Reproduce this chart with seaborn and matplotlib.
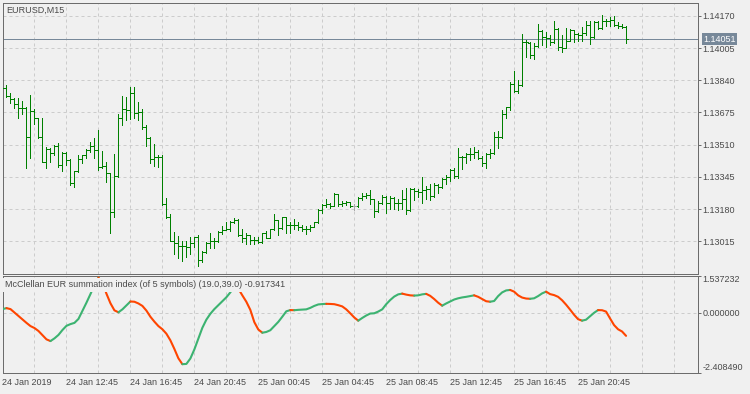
import numpy as np
import pandas as pd
import matplotlib
matplotlib.use("Agg")
import matplotlib.pyplot as plt
import seaborn as sns

# ---------------- data (prices in points, 1 point = 0.00001) ----------------
POINT = 1e-5
open_pts = [113805,113799,113761,113743,113719,113696,113700,113549,113683,113645,
            113551,113423,113488,113466,113505,113406,113466,113431,113312,113375,
            113435,113457,113483,113503,113484,113394,113400,113363,113163,113347,
            113645,113691,113685,113773,113671,113675,113599,113544,113435,113447,
            113445,113204,113140,113018,113006,112990,112992,112988,113004,113036,
            112918,112958,113004,113016,113018,113063,113075,113076,113115,113124,
            113047,113030,113047,113021,113023,113013,113055,113034,113076,113124,
            113085,113137,113096,113098,113100,113089,113076,113078,113089,113112,
            113177,113200,113204,113198,113255,113204,113211,113216,113195,113195,
            113238,113247,113252,113230,113170,113212,113242,113209,113235,113212,
            113209,113230,113175,113281,113272,113270,113277,113281,113247,113303,
            113294,113332,113346,113380,113349,113445,113449,113462,113464,113470,
            113441,113414,113460,113466,113548,113550,113667,113702,113821,113785,
            113816,114038,114030,113970,114016,114093,114061,114056,114035,114103,
            114009,114007,114042,114095,114078,114072,114081,114124,114061,114138,
            114107,114141,114144,114146,114124,114120,114115]
high_pts = [113808,113816,113773,113748,113751,113734,113705,113765,113691,113648,
            113645,113500,113494,113508,113517,113471,113471,113436,113375,113457,
            113457,113488,113522,113543,113585,113477,113420,113365,113460,113667,
            113761,113753,113803,113806,113729,113693,113611,113548,113513,113457,
            113455,113235,113154,113063,113041,113016,113018,113038,113038,113047,
            112966,113012,113057,113030,113066,113093,113115,113120,113135,113127,
            113076,113055,113049,113036,113036,113057,113068,113078,113154,113126,
            113140,113139,113113,113127,113113,113100,113091,113098,113115,113178,
            113206,113230,113212,113264,113257,113221,113221,113217,113204,113243,
            113260,113260,113277,113232,113221,113252,113247,113248,113243,113230,
            113277,113286,113286,113286,113281,113346,113298,113306,113312,113308,
            113337,113354,113384,113388,113491,113454,113467,113493,113496,113483,
            113452,113466,113486,113575,113580,113688,113705,113833,113888,113842,
            114078,114047,114035,114030,114129,114095,114089,114072,114144,114107,
            114072,114107,114103,114097,114084,114115,114144,114141,114144,114141,
            114175,114153,114163,114170,114136,114129,114117]
low_pts = [113793,113756,113722,113700,113648,113666,113392,113443,113618,113543,
           113420,113392,113423,113457,113397,113376,113406,113303,113294,113371,
           113414,113440,113471,113443,113380,113389,113320,113060,113137,113346,
           113611,113636,113642,113644,113636,113590,113503,113418,113400,113394,
           113200,113135,113017,112951,112929,112915,112935,112949,112987,112889,
           112910,112955,112982,112980,113012,113052,113072,113069,113110,113044,
           113012,113000,113000,113000,113007,113006,113032,113030,113072,113045,
           113077,113060,113060,113076,113072,113067,113050,113069,113088,113110,
           113161,113189,113184,113196,113197,113195,113200,113189,113175,113192,
           113226,113235,113204,113140,113163,113204,113158,113178,113178,113175,
           113178,113153,113171,113226,113240,113211,113231,113228,113242,113260,
           113286,113307,113326,113340,113339,113384,113417,113431,113440,113436,
           113400,113389,113440,113462,113494,113545,113645,113688,113782,113773,
           113811,113961,113953,113949,114012,114021,114012,114021,114030,113996,
           113987,114005,114040,114035,114043,114043,114072,114025,114058,114105,
           114103,114120,114120,114120,114107,114107,114030]
close_pts = [113799,113761,113743,113719,113696,113700,113549,113683,113645,113551,
             113423,113488,113466,113505,113406,113466,113431,113312,113375,113435,
             113457,113483,113503,113484,113394,113400,113363,113163,113347,113645,
             113691,113685,113773,113671,113675,113599,113544,113435,113447,113445,
             113204,113140,113018,113006,112990,112992,112988,113004,113036,112918,
             112958,113004,113016,113018,113063,113075,113076,113115,113124,113047,
             113030,113047,113021,113023,113013,113055,113034,113076,113124,113085,
             113137,113096,113098,113100,113089,113076,113078,113089,113112,113177,
             113200,113204,113198,113255,113204,113211,113216,113198,113195,113238,
             113247,113252,113231,113170,113212,113242,113209,113235,113212,113209,
             113230,113175,113281,113272,113270,113277,113281,113247,113303,113294,
             113332,113346,113380,113349,113445,113449,113462,113464,113470,113441,
             113414,113460,113466,113548,113550,113667,113702,113821,113785,113816,
             114038,114034,113970,114016,114093,114061,114056,114035,114103,114009,
             114007,114042,114095,114078,114072,114081,114124,114061,114138,114107,
             114141,114144,114146,114124,114120,114115,114051]
mcclellan = [0.17, 0.21, 0.17, 0.03, -0.11, -0.25, -0.39, -0.52, -0.60, -0.72,
             -0.89, -1.06, -1.13, -1.02, -0.88, -0.68, -0.51, -0.44, -0.39, -0.23,
             0.10, 0.43, 0.78, 1.15, 1.45, 1.25, 0.80, 0.41, 0.12, 0.04,
             0.16, 0.32, 0.48, 0.47, 0.40, 0.30, 0.11, -0.14, -0.34, -0.52,
             -0.65, -0.83, -1.10, -1.45, -1.83, -2.07, -2.06, -1.84, -1.47, -1.03,
             -0.59, -0.26, -0.02, 0.17, 0.33, 0.49, 0.65, 0.85, 1.10, 1.00,
             0.73, 0.47, 0.14, -0.36, -0.66, -0.79, -0.76, -0.69, -0.52, -0.35,
             -0.14, 0.08, 0.13, 0.125, 0.14, 0.15, 0.16, 0.22, 0.30, 0.36,
             0.375, 0.385, 0.38, 0.37, 0.33, 0.28, 0.16, 0.00, -0.17, -0.30,
             -0.19, -0.09, -0.01, 0.00, 0.07, 0.16, 0.37, 0.54, 0.68, 0.77,
             0.80, 0.76, 0.73, 0.72, 0.73, 0.77, 0.79, 0.71, 0.58, 0.43,
             0.31, 0.40, 0.48, 0.56, 0.61, 0.645, 0.67, 0.70, 0.73, 0.67,
             0.58, 0.49, 0.47, 0.50, 0.70, 0.85, 0.93, 0.95, 0.88, 0.73,
             0.64, 0.60, 0.59, 0.61, 0.70, 0.81, 0.88, 0.78, 0.74, 0.67,
             0.53, 0.35, 0.15, -0.06, -0.24, -0.30, -0.26, -0.12, 0.02, 0.13,
             0.125, 0.07, -0.21, -0.48, -0.65, -0.74, -0.917341]
price_ticks = [1.13015, 1.13180, 1.13345, 1.13510, 1.13675, 1.13840, 1.14005, 1.14170]
indicator_ticks = [-2.408490, 0.000000, 1.537232]
time_labels = ["24 Jan 2019", "24 Jan 12:45", "24 Jan 16:45", "24 Jan 20:45",
               "25 Jan 00:45", "25 Jan 04:45", "25 Jan 08:45", "25 Jan 12:45",
               "25 Jan 16:45", "25 Jan 20:45"]
last_price = 1.14051
symbol_title = "EURUSD,M15"
indicator_title = "McClellan EUR summation index (of 5 symbols) (19.0,39.0) -0.917341"

# ---------------- style ----------------
sns.set_theme(style="white")
plt.rcParams["font.family"] = ["Liberation Sans", "DejaVu Sans"]
FS = 6.5
BG = "#f0f0f0"
FRAME = "#6c6c6c"
GRID = "#cccccc"
TXT = "#4a4a4a"
BAR = "#008000"
DOJI = "#a8a8a8"
UP = "#3cb371"
DOWN = "#ff4500"
LAST = "#778899"
PX = 0.72  # one pixel in points at 100 dpi

bars = pd.DataFrame({
    "bar": np.arange(len(close_pts)),
    "open": np.array(open_pts) * POINT,
    "high": np.array(high_pts) * POINT,
    "low": np.array(low_pts) * POINT,
    "close": np.array(close_pts) * POINT,
})
bars["color"] = np.where(np.array(open_pts) == np.array(close_pts), DOJI, BAR)
ind = pd.DataFrame({"bar": np.arange(len(mcclellan)), "value": mcclellan})

W, H = 750, 394
fig = plt.figure(figsize=(W / 100, H / 100), dpi=100, facecolor=BG)


def px_axes(l, t, r, b):
    return fig.add_axes([l / W, 1 - b / H, (r - l) / W, (b - t) / H])


ax1 = px_axes(2.5, 2.5, 697.5, 273.5)
ax2 = px_axes(2.5, 275.5, 697.5, 372.5)

x_lo = 0.125
x_hi = x_lo + 695 / 4.0

for ax in (ax1, ax2):
    ax.set_facecolor(BG)
    for s in ax.spines.values():
        s.set_visible(True)
        s.set_color(FRAME)
        s.set_linewidth(PX)
    ax.set_xlim(x_lo, x_hi)

# ---------------- price bars ----------------
ax1.axhline(last_price, color=LAST, lw=PX, zorder=1.5)
ax1.vlines(bars["bar"], bars["low"], bars["high"], colors=bars["color"], lw=PX,
           antialiased=False, zorder=3)
ax1.hlines(bars["open"], bars["bar"] - 0.5, bars["bar"], colors=bars["color"], lw=PX,
           antialiased=False, zorder=3)
ax1.hlines(bars["close"], bars["bar"], bars["bar"] + 0.5, colors=bars["color"], lw=PX,
           antialiased=False, zorder=3)

ax1.set_ylim(1.128500, 1.142382)
ax1.yaxis.tick_right()
ax1.set_yticks(price_ticks)
ax1.set_yticklabels([f"{v:.5f}" for v in price_ticks])
ax1.set_xticks(np.arange(8, x_hi, 8))
ax1.set_xticklabels([])
ax1.tick_params(axis="x", length=0)
ax1.tick_params(axis="y", direction="out", length=2.2, width=PX, color=FRAME,
                labelcolor=TXT, labelsize=FS, pad=1.5)
ax1.grid(True, color=GRID, linestyle=(0, (3, 3)), lw=PX, zorder=0)
ax1.set_axisbelow(True)

ax1.annotate(f"{last_price:.5f}", xy=(1, last_price), xycoords=ax1.get_yaxis_transform(),
             xytext=(4.2, 0), textcoords="offset points", ha="left", va="center",
             color="white", fontsize=FS, annotation_clip=False, zorder=6,
             bbox=dict(boxstyle="square,pad=0.18", fc=LAST, ec="none"))
ax1.text((6.7 - 2.5) / 695, (273.5 - 12.7) / 271, symbol_title, transform=ax1.transAxes,
         ha="left", va="baseline", color=TXT, fontsize=FS)

# ---------------- indicator ----------------
seg_color = np.where(np.diff(ind["value"].to_numpy()) >= 0, UP, DOWN)
start = 0
for i in range(1, len(seg_color) + 1):
    if i == len(seg_color) or seg_color[i] != seg_color[start]:
        run = ind.iloc[start:i + 1]
        sns.lineplot(data=run, x="bar", y="value", color=seg_color[start], lw=1.5,
                     ax=ax2, sort=False, estimator=None, legend=False, zorder=3)
        start = i

ax2.set_xlabel("")
ax2.set_ylabel("")
ax2.set_xlim(x_lo, x_hi)
ax2.set_ylim(indicator_ticks[0], indicator_ticks[-1])
ax2.axhline(0, color=GRID, linestyle=(0, (3, 3)), lw=PX, zorder=1)
ax2.yaxis.tick_right()
ax2.set_yticks(indicator_ticks)
ylabels = ax2.set_yticklabels([f"{v:.6f}" for v in indicator_ticks])
ylabels[0].set_va("bottom")
ylabels[1].set_va("center")
ylabels[2].set_va("top")
ax2.tick_params(axis="y", direction="out", length=2.2, width=PX, color=FRAME,
                labelcolor=TXT, labelsize=FS, pad=1.5)

major = np.arange(0, len(close_pts), 16)[:len(time_labels)]
ax2.set_xticks(major)
xl = ax2.set_xticklabels(time_labels)
for t in xl:
    t.set_ha("left")
ax2.set_xticks(np.arange(8, x_hi, 8), minor=True)
ax2.tick_params(axis="x", which="major", direction="out", length=2.5, width=PX,
                color=FRAME, labelcolor=TXT, labelsize=FS, pad=1.5)
ax2.tick_params(axis="x", which="minor", length=0)
ax2.grid(True, axis="x", which="both", color=GRID, linestyle=(0, (3, 3)), lw=PX)
ax2.grid(False, axis="y")
ax2.set_axisbelow(True)

ax2.text((5 - 2.5) / 695, (372.5 - 287.3) / 97, indicator_title, transform=ax2.transAxes,
         ha="left", va="baseline", color=TXT, fontsize=FS, zorder=10,
         bbox=dict(boxstyle="square,pad=0.25", fc=BG, ec="none"))

fig.savefig("out.png", dpi=100, facecolor=BG)
